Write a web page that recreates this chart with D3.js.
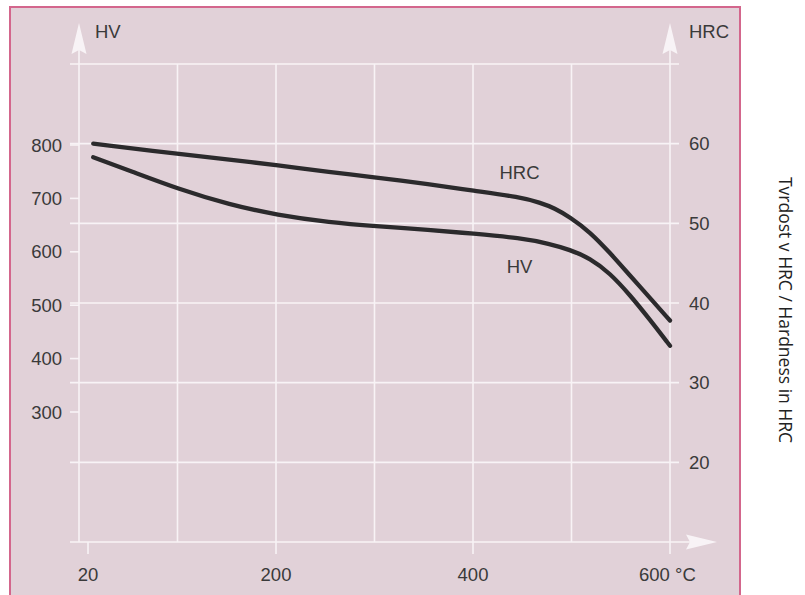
<!DOCTYPE html>
<html>
<head>
<meta charset="utf-8">
<script src="https://cdn.jsdelivr.net/npm/d3@7"></script>
<style>
  html, body { margin: 0; padding: 0; background: #ffffff; }
  svg { display: block; }
</style>
</head>
<body>
<svg id="chart" width="805" height="595"></svg>
<script>
// ---- data ----
const xTickValues = [20, 200, 400, 600];
const xTickLabels = ["20", "200", "400", "600 °C"];
const hvTickValues = [800, 700, 600, 500, 400, 300];
const hrcTickValues = [60, 50, 40, 30, 20];
const hrcGridValues = [70, 60, 50, 40, 30, 20];

const hrcTemps = [25, 106, 156, 201, 255, 300, 356, 400, 448, 468, 483, 498, 519, 539, 559, 580, 600];
const hrcValues = [60.0, 58.7, 58.0, 57.3, 56.4, 55.8, 54.9, 54.1, 53.3, 52.6, 51.9, 50.8, 48.9, 46.3, 43.5, 40.6, 37.8];

const hvTemps = [25, 60, 106, 156, 201, 255, 300, 356, 400, 448, 478, 498, 519, 539, 559, 580, 600];
const hvValues = [777, 752, 718, 688, 669, 655, 648, 641, 634, 626, 615, 604, 588, 560, 520, 472, 424];

const sideTitle = "Tvrdost v HRC / Hardness in HRC";

// ---- layout ----
const svg = d3.select("#chart");
const pL = 79, pR = 670, pT = 64, pB = 542;
const bg = "#e1d1d8", gridCol = "#f8f3f6", ink = "#3a3a3a", curveCol = "#2b2a2c";
const fs = 18.5;

// scales
const x = d3.scaleLinear().domain(xTickValues).range([88, 276, 473, 670]);
const yHV = d3.scaleLinear().domain([300, 800]).range([412, 145]);
const yHRC = d3.scaleLinear().domain([10, 70]).range([pB, pT]);
const gx = d3.scaleLinear().domain([0, 6]).range([pL, pR]);

// panel
svg.append("rect").attr("x", 10).attr("y", 7).attr("width", 730).attr("height", 600)
  .attr("fill", bg).attr("stroke", "#d3668c").attr("stroke-width", 2);

const g = svg.append("g");

// vertical grid
d3.range(0, 7).forEach(i => {
  g.append("line").attr("x1", gx(i)).attr("x2", gx(i))
    .attr("y1", (i === 0 || i === 6) ? 40 : pT).attr("y2", pB)
    .attr("stroke", gridCol).attr("stroke-width", 1.6);
});
// horizontal grid (HRC ticks)
hrcGridValues.forEach(v => {
  g.append("line").attr("x1", 70).attr("x2", 679)
    .attr("y1", yHRC(v)).attr("y2", yHRC(v))
    .attr("stroke", gridCol).attr("stroke-width", 1.6);
});
// x axis line
g.append("line").attr("x1", 70).attr("x2", 700).attr("y1", pB).attr("y2", pB)
  .attr("stroke", gridCol).attr("stroke-width", 1.6);
// x ticks
xTickValues.forEach(v => {
  g.append("line").attr("x1", x(v)).attr("x2", x(v)).attr("y1", pB).attr("y2", 554)
    .attr("stroke", gridCol).attr("stroke-width", 1.6);
});
// left HV ticks
hvTickValues.forEach(v => {
  g.append("line").attr("x1", 70).attr("x2", pL).attr("y1", yHV(v)).attr("y2", yHV(v))
    .attr("stroke", gridCol).attr("stroke-width", 1.6);
});

// arrows
function upArrow(cx) {
  g.append("path").attr("d", `M${cx},23 L${cx + 7.5},54 L${cx},50 L${cx - 7.5},54 Z`).attr("fill", gridCol);
}
upArrow(pL); upArrow(pR);
g.append("path").attr("d", `M717,${pB} L686,${pB - 7.5} L690,${pB} L686,${pB + 7.5} Z`).attr("fill", gridCol);

// labels
const font = "'Liberation Sans', Arial, Helvetica, sans-serif";
const dy = fs * 0.36;
hvTickValues.forEach(v => {
  g.append("text").attr("x", 62).attr("y", yHV(v) + dy).attr("text-anchor", "end")
    .attr("font-family", font).attr("font-size", fs).attr("fill", ink).text(v);
});
hrcTickValues.forEach(v => {
  g.append("text").attr("x", 689).attr("y", yHRC(v) + dy).attr("text-anchor", "start")
    .attr("font-family", font).attr("font-size", fs).attr("fill", ink).text(v);
});
xTickValues.forEach((v, i) => {
  const t = g.append("text").attr("y", 574 + dy).attr("font-family", font)
    .attr("font-size", fs).attr("fill", ink).text(xTickLabels[i]);
  if (i === xTickValues.length - 1) t.attr("x", x(v) - 31).attr("text-anchor", "start");
  else t.attr("x", x(v)).attr("text-anchor", "middle");
});
g.append("text").attr("x", 95).attr("y", 31 + dy).attr("font-family", font)
  .attr("font-size", fs).attr("fill", ink).text("HV");
g.append("text").attr("x", 689).attr("y", 31 + dy).attr("font-family", font)
  .attr("font-size", fs).attr("fill", ink).text("HRC");

// curves
const hrcLine = d3.line().x(d => x(d[0])).y(d => yHRC(d[1])).curve(d3.curveBasis);
const hvLine = d3.line().x(d => x(d[0])).y(d => yHV(d[1])).curve(d3.curveBasis);
g.append("path").attr("d", hrcLine(d3.zip(hrcTemps, hrcValues)))
  .attr("fill", "none").attr("stroke", curveCol).attr("stroke-width", 4.3).attr("stroke-linecap", "round");
g.append("path").attr("d", hvLine(d3.zip(hvTemps, hvValues)))
  .attr("fill", "none").attr("stroke", curveCol).attr("stroke-width", 4.3).attr("stroke-linecap", "round");

// curve labels
g.append("text").attr("x", 519.5).attr("y", 172 + dy).attr("text-anchor", "middle")
  .attr("font-family", font).attr("font-size", fs).attr("fill", ink).text("HRC");
g.append("text").attr("x", 519.5).attr("y", 266 + dy).attr("text-anchor", "middle")
  .attr("font-family", font).attr("font-size", fs).attr("fill", ink).text("HV");

// side title
svg.append("text").attr("transform", "translate(785,310) rotate(90)")
  .attr("text-anchor", "middle").attr("dy", "0.35em")
  .attr("font-family", "'Open Sans', sans-serif").attr("font-size", 17.5)
  .attr("fill", "#222").text(sideTitle);
</script>
</body>
</html>
